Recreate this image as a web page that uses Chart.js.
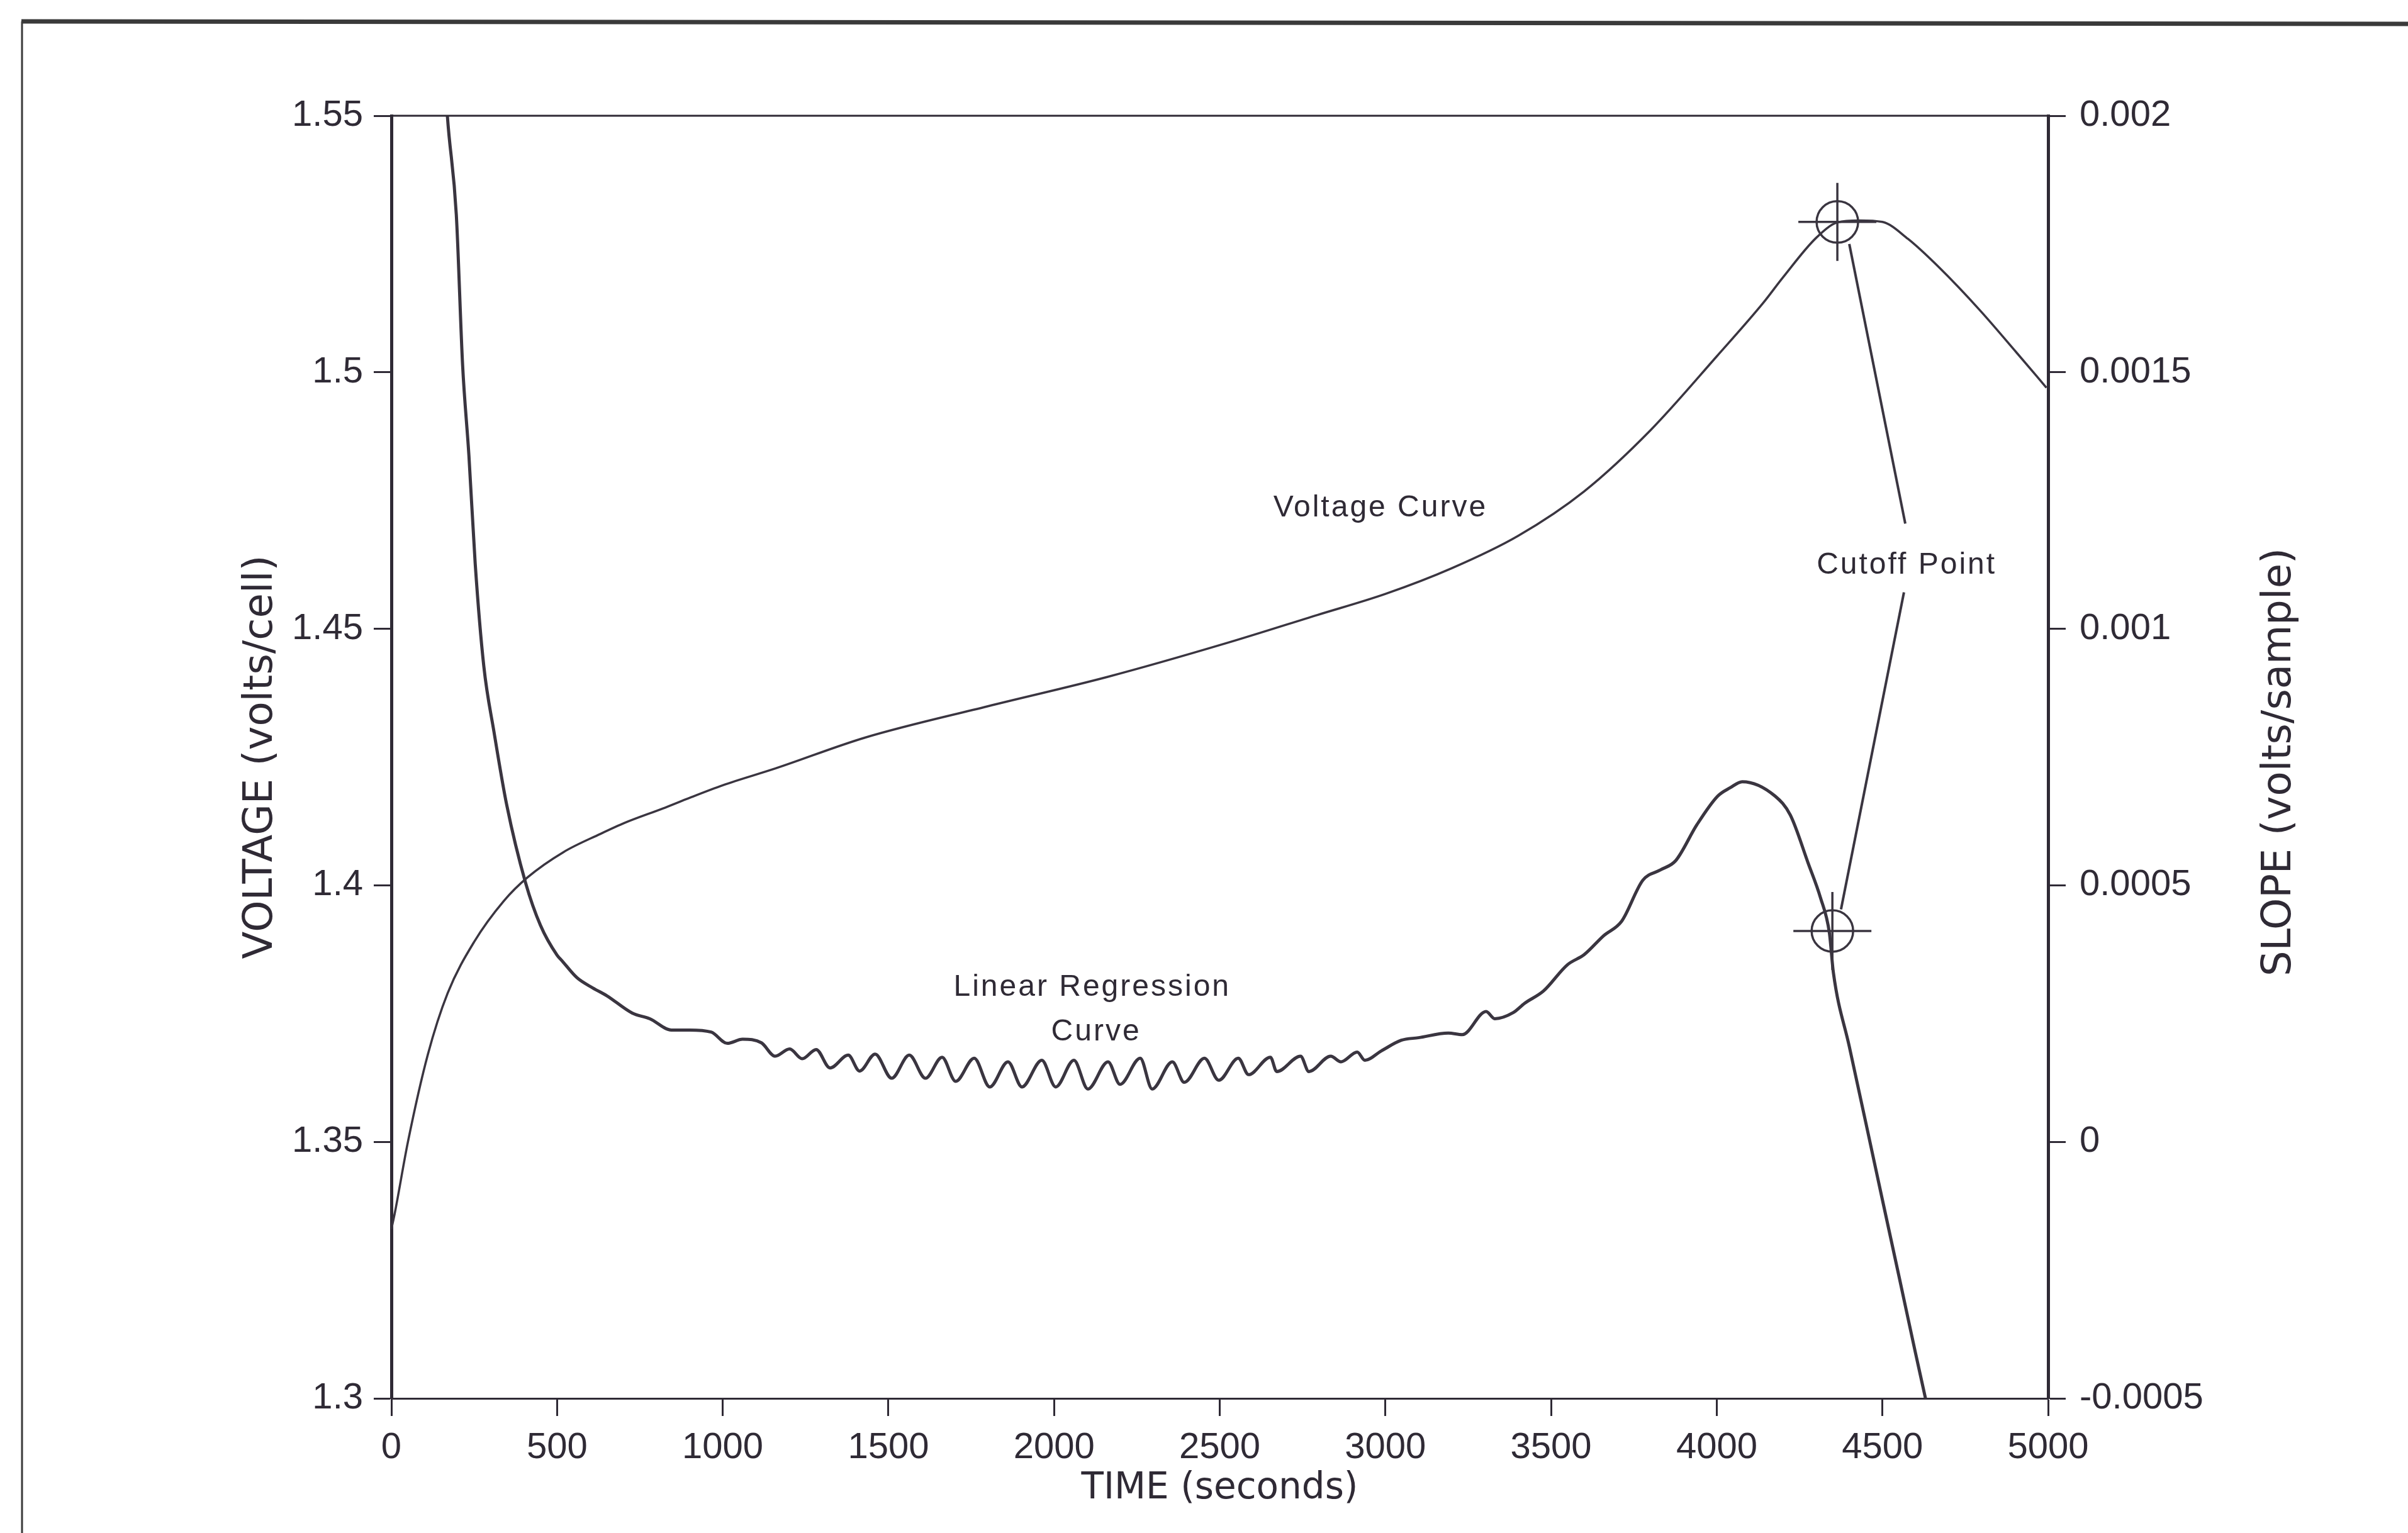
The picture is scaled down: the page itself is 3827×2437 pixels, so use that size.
<!DOCTYPE html>
<html><head><meta charset="utf-8">
<script src="https://cdn.jsdelivr.net/npm/chart.js@4.4.1/dist/chart.umd.min.js"></script>
<style>html,body{margin:0;padding:0;background:#fff;}canvas{display:block;}</style>
</head><body>
<canvas id="c" width="3827" height="2437"></canvas>
<script>
// ---- data ----
const voltageTime   = [0,10,50,110,170,250,340,410,520,630,705,820,890,1000,1160,1430,1800,2160,2520,2795,3000,3200,3400,3600,3800,4000,4140,4200,4300,4364,4430,4500,4577,4670,4794,4904,4995];
const voltageValues = [1.333,1.336,1.350,1.367,1.379,1.389,1.397,1.4015,1.4065,1.4100,1.4122,1.4150,1.4168,1.4195,1.4228,1.4288,1.4349,1.4406,1.4472,1.4527,1.4568,1.4618,1.4681,1.4768,1.4887,1.5031,1.5135,1.5185,1.5262,1.5292,1.5296,1.5293,1.5260,1.5205,1.5121,1.5039,1.4970];

const slopeTime   = [160,169,196,215,234,253,279,310,348,405,450,500,515,560,608,650,727,780,845,900,965,1014,1060,1117,1158,1202,1240,1282,1324,1379,
  1413,1460,1510,1563,1612,1662,1703,1759,1806,1861,1903,1963,2005,2060,2102,2163,2199,2260,2296,2357,2393,2454,2497,2556,2587,2653,2672,2744,2769,2835,2866,2915,2938,2987,3048,3100,3190,3232,3304,3330,3386,3420,3477,3549,3600,3659,3713,3777,3830,3876,3940,4003,4040,4077,4176,4222,4276,4313,4340,4352,4400,4450,4500,4550,4600,4630,4650];
const slopeValues = [0.00210,0.00200,0.001807,0.001514,0.001338,0.001127,0.000927,0.000798,0.000657,0.000505,0.000422,0.000364,0.000353,0.000320,0.000300,0.000285,0.000251,0.000240,0.000218,0.000218,0.000214,0.000192,0.000200,0.000193,0.000167,0.000181,0.000162,0.000180,0.000144,0.000169,
  0.000138,0.000171,0.000124,0.000169,0.000124,0.000165,0.000118,0.000163,0.000107,0.000156,0.000107,0.000159,0.000107,0.000159,0.000103,0.000156,0.000112,0.000163,0.000103,0.000156,0.000116,0.000163,0.000120,0.000163,0.000131,0.000165,0.000137,0.000167,0.000137,0.000167,0.000156,0.000175,0.000159,0.000177,0.000198,0.000203,0.000212,0.000209,0.000254,0.000240,0.000252,0.000270,0.000294,0.000345,0.000365,0.000402,0.000430,0.000510,0.000530,0.000548,0.000618,0.000674,0.000690,0.000702,0.000674,0.000637,0.000543,0.000476,0.000407,0.000330,0.000186,0.000037,-0.000113,-0.000262,-0.000412,-0.000500,-0.000560];

const cutoffVoltageTime = [4364];
const cutoffVoltageValue = [1.5293];
const cutoffSlopeTime = [4349];
const cutoffSlopeValue = [0.000411];

const leaderUpperTime = [4400, 4569];
const leaderUpperVoltage = [1.525, 1.4705];
const leaderLowerTime = [4565, 4375];
const leaderLowerVoltage = [1.4571, 1.3953];

const timeTicks = [0,500,1000,1500,2000,2500,3000,3500,4000,4500,5000];
const timeTickLabels = ['0','500','1000','1500','2000','2500','3000','3500','4000','4500','5000'];
const voltageTicks = [1.3,1.35,1.4,1.45,1.5,1.55];
const voltageTickLabels = ['1.3','1.35','1.4','1.45','1.5','1.55'];
const slopeTicks = [-0.0005,0,0.0005,0.001,0.0015,0.002];
const slopeTickLabels = ['-0.0005','0','0.0005','0.001','0.0015','0.002'];

const labelTexts = ['Voltage Curve','Linear Regression','Curve','Cutoff Point'];
const labelTime = [2985, 2115, 2127, 4573];
const labelVoltage = [1.4735, 1.3801, 1.3714, 1.4624];

// ---- styling ----
const INK = '#2f2a35';
const LINE = '#3a3540';
const tickFont = {family:'"Liberation Sans", Arial, sans-serif', size:58};

function pts(xs, ys){ return xs.map((x,i)=>({x:x, y:ys[i]})); }

const decor = {
  id:'decor',
  beforeDraw(chart){
    const ctx = chart.ctx;
    ctx.save();
    ctx.fillStyle = '#ffffff';
    ctx.fillRect(0,0,chart.width,chart.height);
    ctx.strokeStyle = '#3a3a3a';
    ctx.lineWidth = 7;
    ctx.beginPath(); ctx.moveTo(34,34); ctx.lineTo(chart.width,38); ctx.stroke();
    ctx.lineWidth = 3;
    ctx.beginPath(); ctx.moveTo(35,34); ctx.lineTo(35,chart.height); ctx.stroke();
    ctx.restore();
  },
  afterDraw(chart){
    const ctx = chart.ctx, a = chart.chartArea;
    const sx = chart.scales.x, sy = chart.scales.y, s2 = chart.scales.y2;
    ctx.save();
    ctx.strokeStyle = INK; ctx.lineWidth = 3;
    ctx.beginPath(); ctx.moveTo(a.left, a.top); ctx.lineTo(a.right, a.top); ctx.stroke();
    ctx.fillStyle = INK;
    ctx.font = '64px "DejaVu Sans", sans-serif';
    ctx.textAlign = 'center'; ctx.textBaseline = 'middle';
    ctx.translate(s2.right - 38.4, (a.top + a.bottom)/2 + 8);
    ctx.rotate(-Math.PI/2);
    ctx.fillText('SLOPE (volts/sample)', 0, 0);
    ctx.restore();
    ctx.save();
    ctx.fillStyle = INK;
    ctx.font = '48px "Liberation Sans", Arial, sans-serif';
    try { ctx.letterSpacing = '3px'; } catch(e) {}
    ctx.textAlign = 'center'; ctx.textBaseline = 'middle';
    labelTexts.forEach((t,i)=>{
      ctx.fillText(t, sx.getPixelForValue(labelTime[i]), sy.getPixelForValue(labelVoltage[i]));
    });
    ctx.restore();
  }
};

new Chart(document.getElementById('c'), {
  type:'line',
  data:{
    datasets:[
      {label:'Voltage', data:pts(voltageTime, voltageValues), yAxisID:'y', borderColor:LINE, borderWidth:3.5, pointRadius:0, cubicInterpolationMode:'monotone', fill:false},
      {label:'Slope', data:pts(slopeTime, slopeValues), yAxisID:'y2', borderColor:LINE, borderWidth:5, pointRadius:0, cubicInterpolationMode:'monotone', fill:false},
      {label:'Leader1', data:pts(leaderUpperTime, leaderUpperVoltage), yAxisID:'y', borderColor:LINE, borderWidth:4, pointRadius:0},
      {label:'Leader2', data:pts(leaderLowerTime, leaderLowerVoltage), yAxisID:'y', borderColor:LINE, borderWidth:4, pointRadius:0},
      {label:'CutV circle', data:pts(cutoffVoltageTime, cutoffVoltageValue), yAxisID:'y', showLine:false, pointStyle:'circle', pointRadius:33, borderColor:LINE, borderWidth:3.5, backgroundColor:'rgba(0,0,0,0)'},
      {label:'CutV cross', data:pts(cutoffVoltageTime, cutoffVoltageValue), yAxisID:'y', showLine:false, pointStyle:'cross', pointRadius:62, borderColor:LINE, borderWidth:3.5},
      {label:'CutS circle', data:pts(cutoffSlopeTime, cutoffSlopeValue), yAxisID:'y2', showLine:false, pointStyle:'circle', pointRadius:33, borderColor:LINE, borderWidth:3.5, backgroundColor:'rgba(0,0,0,0)'},
      {label:'CutS cross', data:pts(cutoffSlopeTime, cutoffSlopeValue), yAxisID:'y2', showLine:false, pointStyle:'cross', pointRadius:62, borderColor:LINE, borderWidth:3.5}
    ]
  },
  options:{
    responsive:false, animation:false, devicePixelRatio:1,
    layout:{padding:{left:376.6, right:165, top:184, bottom:35.2}},
    plugins:{legend:{display:false}, tooltip:{enabled:false}},
    scales:{
      x:{type:'linear', position:'bottom', min:0, max:5000,
        afterBuildTicks:s=>{ s.ticks = timeTicks.map(v=>({value:v})); },
        afterFit:s=>{ s.height = 178.8; },
        ticks:{callback:(v,i)=>timeTickLabels[i], color:INK, font:tickFont, padding:16, maxRotation:0, autoSkip:false},
        grid:{drawOnChartArea:false, drawTicks:true, tickLength:28, tickWidth:3, tickColor:INK, color:INK},
        border:{display:true, width:3, color:INK},
        title:{display:true, text:'TIME (seconds)', color:INK, font:{family:'"DejaVu Sans", sans-serif', size:58}, padding:0}
      },
      y:{type:'linear', position:'left', min:1.3, max:1.55,
        afterBuildTicks:s=>{ s.ticks = voltageTicks.map(v=>({value:v})); },
        afterFit:s=>{ s.width = 245.4; },
        ticks:{callback:(v,i)=>voltageTickLabels[i], color:INK, font:tickFont, padding:17, autoSkip:false},
        grid:{drawOnChartArea:false, drawTicks:true, tickLength:28, tickWidth:3, tickColor:INK, color:INK},
        border:{display:true, width:5, color:INK},
        title:{display:true, text:'VOLTAGE (volts/cell)', color:INK, font:{family:'"DejaVu Sans", sans-serif', size:64}, padding:0}
      },
      y2:{type:'linear', position:'right', min:-0.0005, max:0.002,
        afterBuildTicks:s=>{ s.ticks = slopeTicks.map(v=>({value:v})); },
        afterFit:s=>{ s.width = 407; },
        ticks:{callback:(v,i)=>slopeTickLabels[i], color:INK, font:tickFont, padding:22, autoSkip:false},
        grid:{drawOnChartArea:false, drawTicks:true, tickLength:28, tickWidth:3, tickColor:INK, color:INK},
        border:{display:true, width:5, color:INK}
      }
    }
  },
  plugins:[decor]
});
</script>
</body></html>
